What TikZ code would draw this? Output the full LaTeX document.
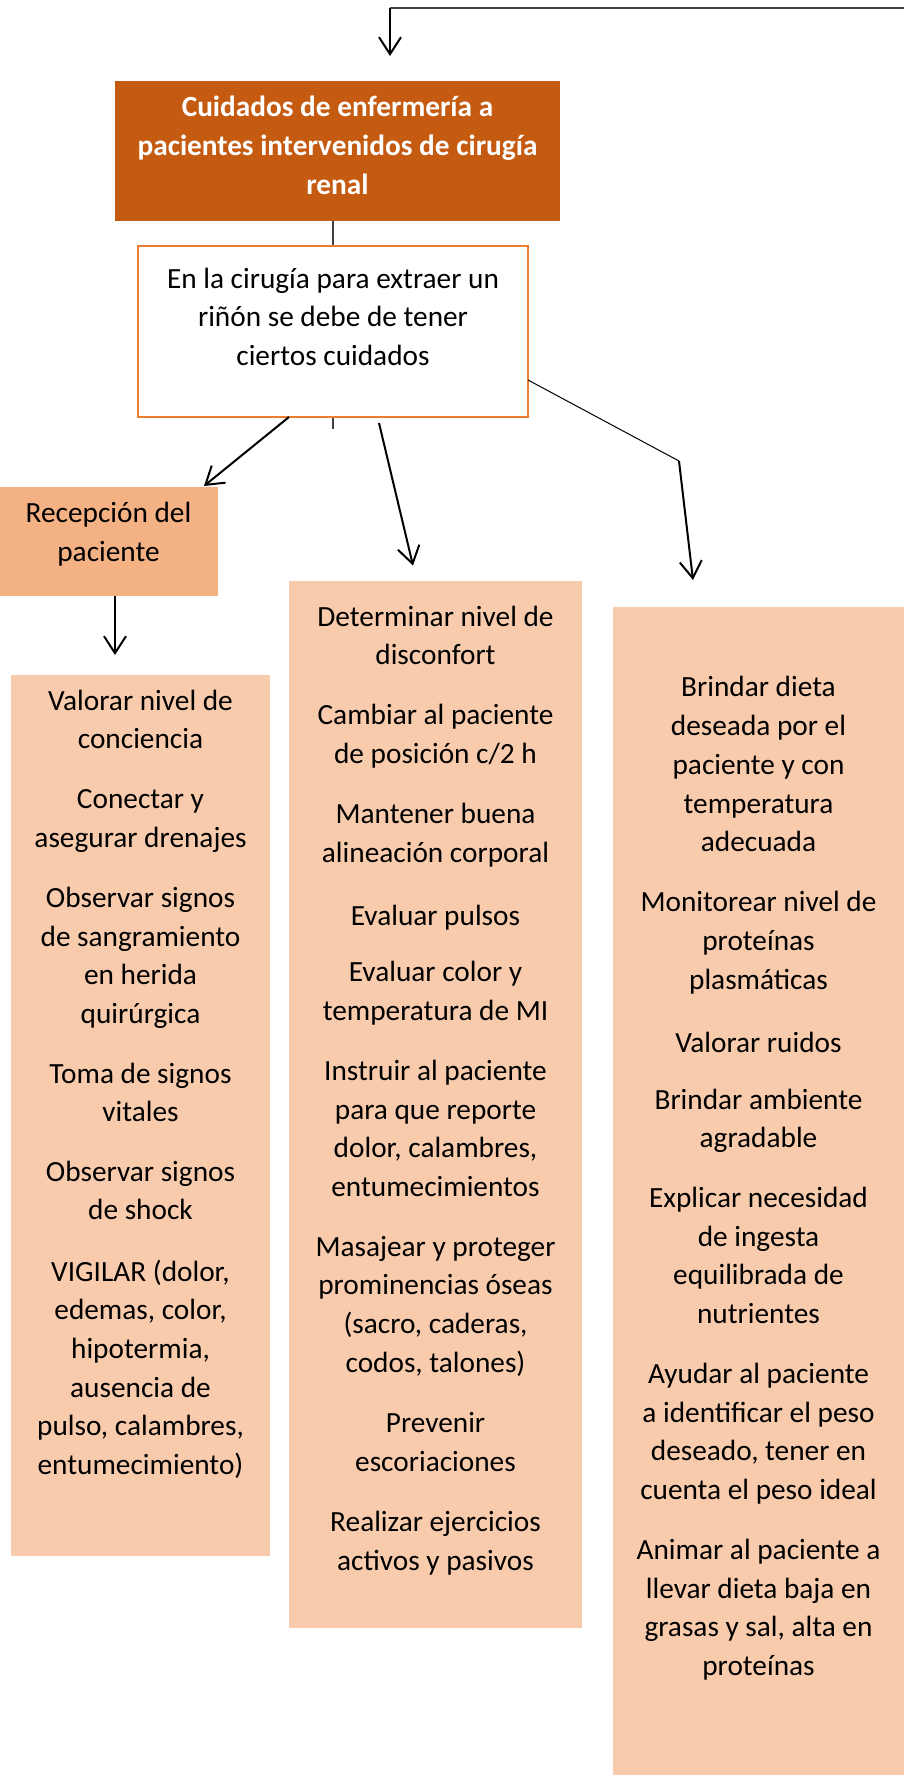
\documentclass[tikz,border=0pt]{standalone}
\usepackage{fontspec}
\setmainfont{Carlito}
\usetikzlibrary{arrows.meta,calc}
\definecolor{titlefill}{HTML}{C55A11}
\definecolor{boxline}{HTML}{ED7D31}
\definecolor{recfill}{HTML}{F4B183}
\definecolor{itemfill}{HTML}{F8CBAD}
\definecolor{linkgray}{HTML}{404040}
\begin{document}
\begin{tikzpicture}[x=1pt,y=-1pt,
  txt/.style={font=\fontsize{29.3pt}{38.7pt}\selectfont, align=center, inner sep=0pt,
    execute at begin node=\strut, execute at end node=\strut},
  titletxt/.style={txt, font=\fontsize{29.3pt}{38.7pt}\selectfont\bfseries, text=white},
  panel/.style={draw=none, inner sep=0pt, outer sep=0pt, anchor=north west},
  conn/.style={draw=black, line width=2pt, -{Straight Barb[length=17pt,width=22pt]}},
  thinline/.style={draw=linkgray, line width=1.6pt},
  lightline/.style={draw=black, line width=1pt}
]
\useasboundingbox (0,0) rectangle (904,1781);

% title
\node[panel, fill=titlefill, minimum width=445pt, minimum height=140pt] (title) at (115,81) {};
\node[titletxt] (titletext) at (title.center) {Cuidados de enfermería a\\pacientes intervenidos de cirugía\\renal};

% top connector
\coordinate (topR) at (904,8);
\coordinate (topC) at (390,8);
\draw[thinline] (topR) -- (topC);
\draw[conn] (topC) -- ([xshift=52.5pt,yshift=25pt]title.north);

% link title -> box2 (passes behind box2)
\coordinate (stubEnd) at (333,429);
\draw[thinline, line width=1.2pt] ([xshift=-4.5pt]title.south) -- (stubEnd);

% box2
\node[panel, fill=white, draw=boxline, line width=2pt, outer sep=0pt, minimum width=390pt, minimum height=171pt] (box2) at (138,246) {};
\node[txt] (box2text) at (333,322.5) {En la cirugía para extraer un\\riñón se debe de tener\\ciertos cuidados};

% recepcion
\node[panel, fill=recfill, minimum width=218pt, minimum height=109pt] (recep) at (0,487) {};
\node[txt] (receptext) at (108.5,537.5) {Recepción del\\paciente};

% columns
\node[panel, fill=itemfill, minimum width=259pt, minimum height=880.6pt] (colL) at (11,675) {};
\node[panel, fill=itemfill, minimum width=293pt, minimum height=1047pt] (colM) at (289,581) {};
\node[panel, fill=itemfill, minimum width=291pt, minimum height=1168pt] (colR) at (613,607) {};

% connectors
\draw[conn] ([xshift=-44pt]box2.south) -- ([xshift=-14pt,yshift=1pt]recep.north east);
\draw[conn] ([xshift=46pt,yshift=-6pt]box2.south) -- ([xshift=-22.5pt,yshift=15.5pt]colM.north);
\coordinate (bendR) at (679,461);
\draw[lightline] ([yshift=-48.5pt]box2.east) -- (bendR);
\draw[conn] (bendR) -- ([xshift=-65.5pt,yshift=27pt]colR.north);
\draw[conn] ([xshift=6pt]recep.south) -- ([xshift=-25.5pt,yshift=20pt]colL.north);

% left column items
\node[txt] (l1) at (140.5,725) {Valorar nivel de\\conciencia};
\node[txt] (l2) at (140.5,824) {Conectar y\\asegurar drenajes};
\node[txt] (l3) at (140.5,961) {Observar signos\\de sangramiento\\en herida\\quirúrgica};
\node[txt] (l4) at (140.5,1098) {Toma de signos\\vitales};
\node[txt] (l5) at (140.5,1196) {Observar signos\\de shock};
\node[txt] (l6) at (140.5,1373) {VIGILAR (dolor,\\edemas, color,\\hipotermia,\\ausencia de\\pulso, calambres,\\entumecimiento)};

% middle column items
\node[txt] (m1) at (435.5,641) {Determinar nivel de\\disconfort};
\node[txt] (m2) at (435.5,739.5) {Cambiar al paciente\\de posición c/2 h};
\node[txt] (m3) at (435.5,838.5) {Mantener buena\\alineación corporal};
\node[txt] (m4) at (435.5,918) {Evaluar pulsos};
\node[txt] (m5) at (435.5,996.5) {Evaluar color y\\temperatura de MI};
\node[txt] (m6) at (435.5,1134) {Instruir al paciente\\para que reporte\\dolor, calambres,\\entumecimientos};
\node[txt] (m7) at (435.5,1310) {Masajear y proteger\\prominencias óseas\\(sacro, caderas,\\codos, talones)};
\node[txt] (m8) at (435.5,1448) {Prevenir\\escoriaciones};
\node[txt] (m9) at (435.5,1546.5) {Realizar ejercicios\\activos y pasivos};

% right column items
\node[txt] (r1) at (758.5,770) {Brindar dieta\\deseada por el\\paciente y con\\temperatura\\adecuada};
\node[txt] (r2) at (758.5,946) {Monitorear nivel de\\proteínas\\plasmáticas};
\node[txt] (r3) at (758.5,1044.6) {Valorar ruidos};
\node[txt] (r4) at (758.5,1124) {Brindar ambiente\\agradable};
\node[txt] (r5) at (758.5,1261) {Explicar necesidad\\de ingesta\\equilibrada de\\nutrientes};
\node[txt] (r6) at (758.5,1437) {Ayudar al paciente\\a identificar el peso\\deseado, tener en\\cuenta el peso ideal};
\node[txt] (r7) at (758.5,1613) {Animar al paciente a\\llevar dieta baja en\\grasas y sal, alta en\\proteínas};
\end{tikzpicture}
\end{document}
